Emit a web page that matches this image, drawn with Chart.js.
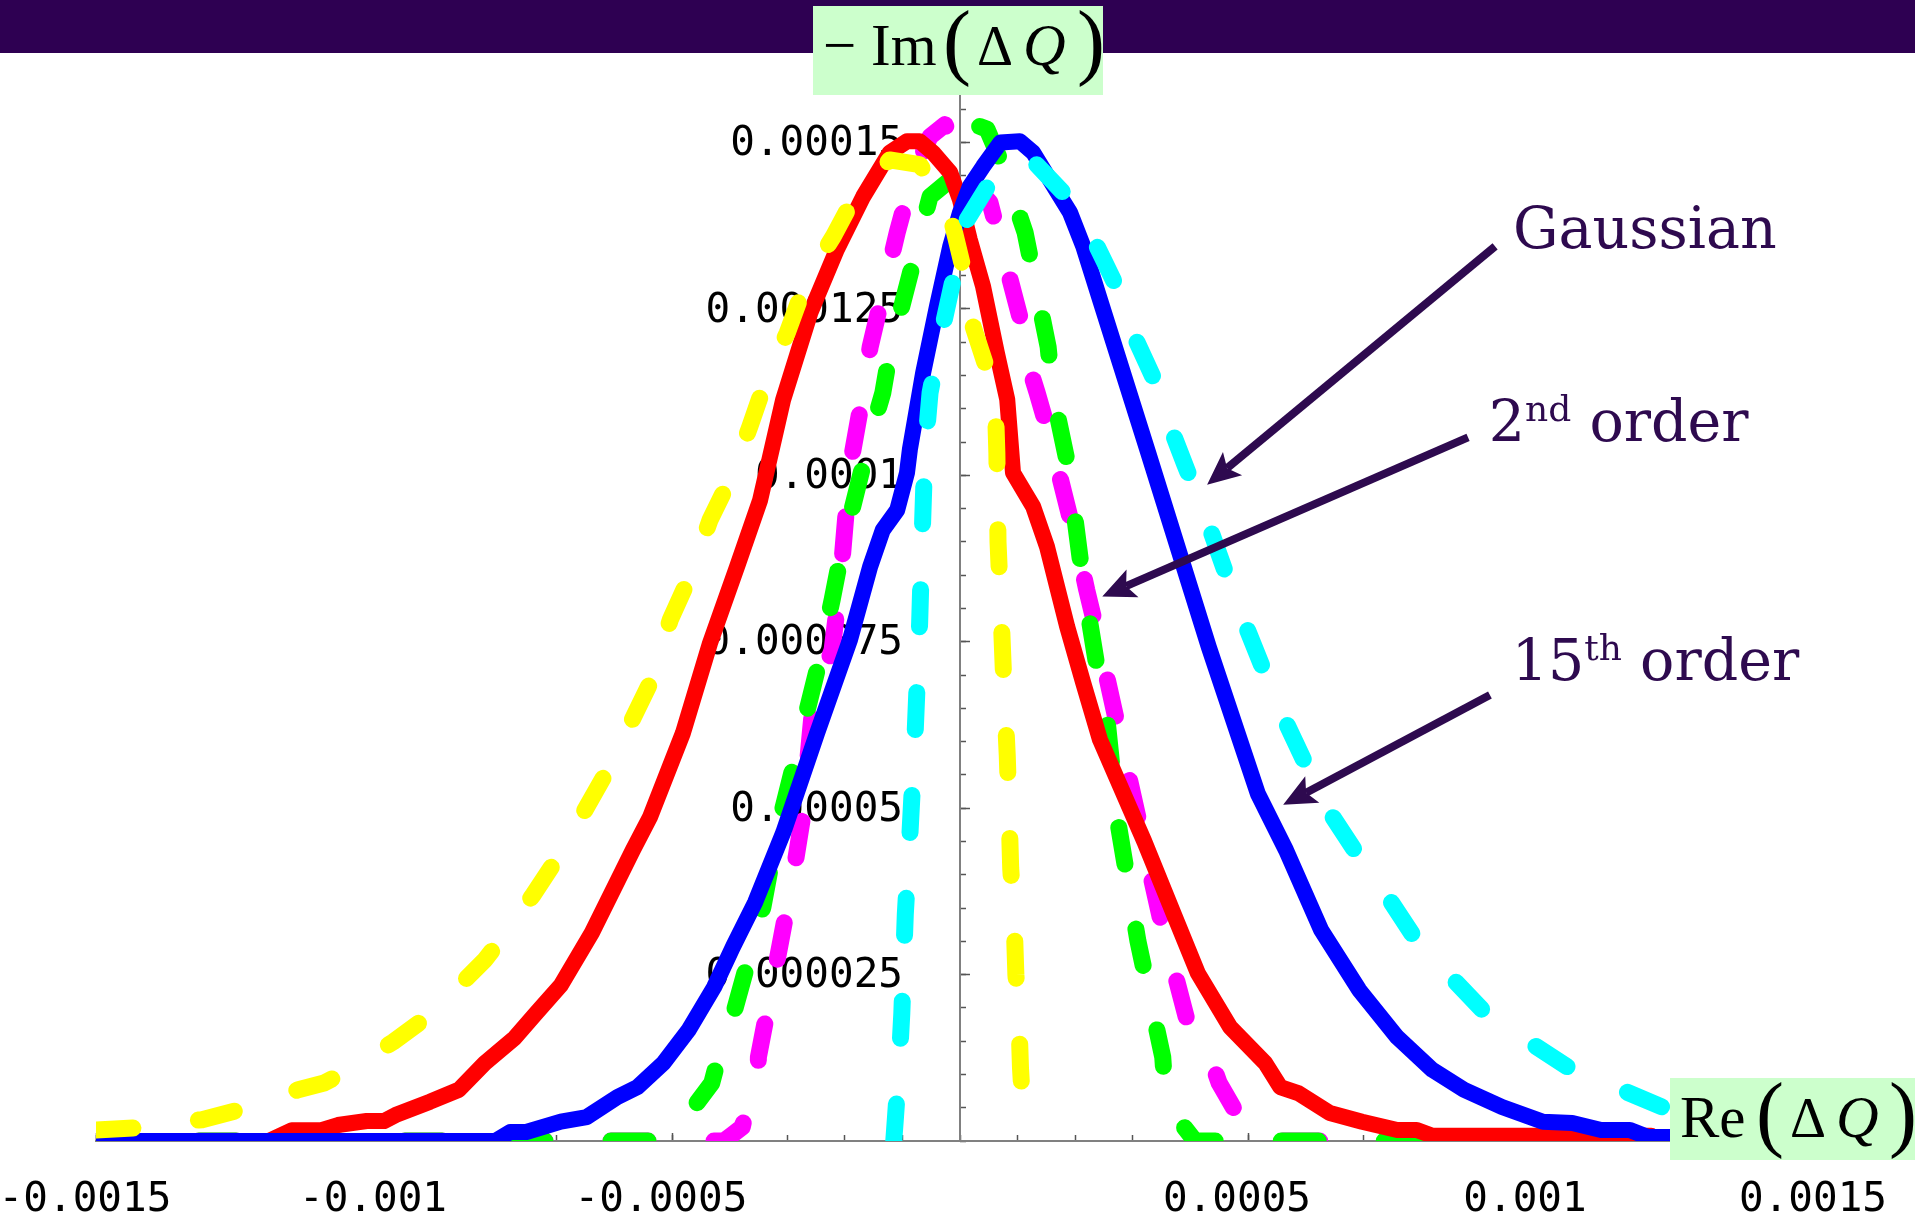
<!DOCTYPE html>
<html>
<head>
<meta charset="utf-8">
<script src="https://cdn.jsdelivr.net/npm/chart.js@4.4.1/dist/chart.umd.min.js"></script>
<style>
  html, body { margin: 0; padding: 0; background: #fff; }
  #wrap { width: 1915px; height: 1219px; position: relative; }
</style>
</head>
<body>
<div id="wrap"><canvas id="myChart"></canvas></div>
<script>
// axis ticks
const xTicks = [-0.0015, -0.001, -0.0005, 0.0005, 0.001, 0.0015];
const xTickLabels = ['-0.0015', '-0.001', '-0.0005', '0.0005', '0.001', '0.0015'];
const yTicks = [0.000025, 0.00005, 0.000075, 0.0001, 0.000125, 0.00015];
const yTickLabels = ['0.000025', '0.00005', '0.000075', '0.0001', '0.000125', '0.00015'];

// red, solid
const redX = [-0.0015, -0.0012, -0.00116, -0.00111, -0.00108, -0.00103, -0.001, -0.00098, -0.00092, -0.00087,
  -0.000825, -0.000773, -0.000736, -0.000693, -0.000639, -0.000568, -0.000538, -0.000481, -0.000434, -0.000387,
  -0.000347, -0.000307, -0.00026, -0.000214, -0.000168, -0.000122, -0.000092, -0.00007, -0.000047, -0.000017,
  0, 0.000017, 0.00004, 0.000064, 0.000082, 0.000092, 0.000127, 0.000151, 0.000186, 0.000214,
  0.000243, 0.00032, 0.000373, 0.000413, 0.000469, 0.00053, 0.000556, 0.000587, 0.000642, 0.000698,
  0.000759, 0.000793, 0.00082, 0.0012];
const redY = [0, 0, 1.6e-6, 1.6e-6, 2.4e-6, 3.0e-6, 3.0e-6, 3.9e-6, 5.9e-6, 7.7e-6,
  1.17e-5, 1.55e-5, 1.92e-5, 2.34e-5, 3.13e-5, 4.37e-5, 4.87e-5, 6.13e-5, 7.48e-5, 8.63e-5,
  9.63e-5, 1.114e-4, 1.244e-4, 1.339e-4, 1.419e-4, 1.485e-4, 1.502e-4, 1.502e-4, 1.485e-4, 1.455e-4,
  1.414e-4, 1.354e-4, 1.284e-4, 1.184e-4, 1.114e-4, 1.004e-4, 9.53e-5, 8.93e-5, 7.73e-5, 6.88e-5,
  6.03e-5, 4.5e-5, 3.37e-5, 2.52e-5, 1.71e-5, 1.17e-5, 8.1e-6, 7.2e-6, 4.2e-6, 2.9e-6,
  1.65e-6, 1.65e-6, 0.8e-6, 0.8e-6];

// blue, solid (15th order)
const blueX = [-0.0015, -0.000807, -0.000781, -0.000753, -0.000693, -0.000648, -0.000595, -0.00056, -0.000515, -0.000471,
  -0.000427, -0.000394, -0.000356, -0.000307, -0.000248, -0.000191, -0.000156, -0.000134, -0.000109, -0.000092,
  -0.000087, -0.000064, -0.00004, -0.000017, 0, 0.000017, 0.00004, 0.00007, 0.000104, 0.000127,
  0.000156, 0.000191, 0.000214, 0.000243, 0.000326, 0.000432, 0.000517, 0.000566, 0.000627, 0.000693,
  0.000759, 0.00082, 0.000875, 0.000941, 0.001012, 0.001063, 0.001113, 0.001163, 0.001194, 0.0015];
const blueY = [0, 0, 1.35e-6, 1.35e-6, 2.9e-6, 3.6e-6, 6.6e-6, 8.1e-6, 1.17e-5, 1.67e-5,
  2.31e-5, 2.92e-5, 3.58e-5, 4.63e-5, 6.13e-5, 7.53e-5, 8.63e-5, 9.18e-5, 9.48e-5, 1.004e-4,
  1.039e-4, 1.154e-4, 1.254e-4, 1.344e-4, 1.395e-4, 1.434e-4, 1.464e-4, 1.5e-4, 1.502e-4, 1.485e-4,
  1.444e-4, 1.395e-4, 1.344e-4, 1.264e-4, 1.036e-4, 7.42e-5, 5.22e-5, 4.37e-5, 3.17e-5, 2.27e-5,
  1.56e-5, 1.07e-5, 7.7e-6, 5.1e-6, 2.9e-6, 2.7e-6, 1.65e-6, 1.65e-6, 0.6e-6, 0.6e-6];

// yellow, dashed
const yellowX = [-0.0015, -0.001427, -0.001405, -0.001316, -0.001233, -0.001149, -0.001104, -0.001061, -0.000984, -0.000913,
  -0.000856, -0.000825, -0.000793, -0.000741, -0.000693, -0.00061, -0.000538, -0.000503, -0.000464, -0.000434,
  -0.000394, -0.000365, -0.000335, -0.0003, -0.000266, -0.00022, -0.000179, -0.000122, -0.00007, -0.000049,
  -0.000012, 0.000009, 0.000023, 0.000057, 0.000061, 0.000064, 0.000066, 0.000071, 0.000076, 0.000082,
  0.000085, 0.000088, 0.000094, 0.000097, 0.000102, 0.000105, 0.00011, 0.000112];
const yellowY = [1.65e-6, 2.0e-6, 2.4e-6, 3.2e-6, 5.1e-6, 7.7e-6, 8.7e-6, 1.07e-5, 1.49e-5, 1.94e-5,
  2.45e-5, 2.72e-5, 3.07e-5, 3.7e-5, 4.33e-5, 5.6e-5, 6.88e-5, 7.83e-5, 8.58e-5, 9.33e-5,
  1.004e-4, 1.073e-4, 1.148e-4, 1.214e-4, 1.294e-4, 1.359e-4, 1.425e-4, 1.474e-4, 1.467e-4, 1.44e-4,
  1.374e-4, 1.299e-4, 1.223e-4, 1.133e-4, 1.118e-4, 1.034e-4, 9.0e-5, 8.0e-5, 6.9e-5, 5.8e-5,
  5.0e-5, 4.1e-5, 3.3e-5, 2.5e-5, 1.9e-5, 1.1e-5, 3.6e-6, 0];

// cyan, dashed (Gaussian)
const cyanX = [-0.000115, -0.000112, -0.000106, -0.000101, -0.000095, -0.000087, -0.000078, -0.00007, -0.000066, -0.000061,
  -0.000052, -0.00003, -0.000012, 0.000005, 0.000052, 0.000075, 0.000122, 0.000179, 0.000226, 0.000266,
  0.0003, 0.000335, 0.000365, 0.00039, 0.000434, 0.000475, 0.000549, 0.000634, 0.000688, 0.000738,
  0.000788, 0.000854, 0.00091, 0.000991, 0.001057, 0.001103, 0.001148, 0.00123, 0.001316, 0.001405, 0.0015];
const cyanY = [0, 3.6e-6, 1.1e-5, 1.92e-5, 3.4e-5, 4.6e-5, 6.1e-5, 7.8e-5, 9.0e-5, 1.034e-4,
  1.124e-4, 1.223e-4, 1.294e-4, 1.374e-4, 1.44e-4, 1.467e-4, 1.477e-4, 1.425e-4, 1.365e-4, 1.294e-4,
  1.214e-4, 1.148e-4, 1.073e-4, 1.017e-4, 9.2e-5, 8.2e-5, 6.6e-5, 5.04e-5, 4.33e-5, 3.73e-5,
  3.07e-5, 2.45e-5, 1.94e-5, 1.47e-5, 1.1e-5, 8.9e-6, 7.7e-6, 4.7e-6, 3.2e-6, 2.4e-6, 1.65e-6];

// magenta, dashed
const magentaX = [-0.0015, -0.00041, -0.000396, -0.000378, -0.00037, -0.000351, -0.00035, -0.000313, -0.00029, -0.000274,
  -0.000255, -0.000222, -0.000208, -0.000191, -0.000168, -0.000156, -0.000109, -0.000092, -0.000075, -0.000052,
  -0.000026, 0.000017, 0.000052, 0.000104, 0.000116, 0.000134, 0.000156, 0.000205, 0.00022, 0.000238,
  0.000295, 0.000347, 0.000394, 0.000413, 0.000434, 0.00045, 0.000474, 0.000495, 0.00052, 0.0015];
const magentaY = [0, 0, 0.9e-6, 2.1e-6, 5.1e-6, 8.1e-6, 1.26e-5, 2.92e-5, 3.97e-5, 4.83e-5,
  6.58e-5, 7.38e-5, 8.39e-5, 1.013e-4, 1.124e-4, 1.193e-4, 1.365e-4, 1.419e-4, 1.464e-4, 1.509e-4,
  1.527e-4, 1.444e-4, 1.41e-4, 1.238e-4, 1.174e-4, 1.124e-4, 1.058e-4, 8.88e-5, 8.28e-5, 7.63e-5,
  5.4e-5, 3.38e-5, 1.82e-5, 1.62e-5, 1.26e-5, 8.7e-6, 5.1e-6, 2.1e-6, 0, 0];

// green, dashed
const greenX = [-0.0015, -0.00052, -0.000488, -0.000462, -0.000431, -0.00041, -0.000396, -0.000342, -0.000318, -0.000295,
  -0.000248, -0.000222, -0.000205, -0.000156, -0.000134, -0.000122, -0.000104, -0.000052, -0.000017, 0.000026,
  0.000047, 0.000082, 0.000092, 0.000113, 0.000153, 0.000161, 0.000188, 0.000214, 0.000238, 0.000252,
  0.000273, 0.000309, 0.000352, 0.000355, 0.000373, 0.000389, 0.000408, 0.0015];
const greenY = [0, 0, 2.1e-6, 5.1e-6, 8.7e-6, 1.56e-5, 1.82e-5, 3.52e-5, 4.63e-5, 5.43e-5,
  7.08e-5, 8.13e-5, 8.88e-5, 1.058e-4, 1.124e-4, 1.184e-4, 1.244e-4, 1.419e-4, 1.444e-4, 1.527e-4,
  1.52e-4, 1.449e-4, 1.419e-4, 1.365e-4, 1.193e-4, 1.124e-4, 1.013e-4, 8.39e-5, 7.12e-5, 6.6e-5,
  4.85e-5, 3.0e-5, 1.26e-5, 8.7e-6, 5.7e-6, 2.1e-6, 0, 0];

const pts = (xs, ys) => xs.map((x, i) => ({x: x, y: ys[i]}));

// minor tick marks, every 0.0001 on x and 0.000005 on y
const xMinor = [];
for (let i = -15; i <= 15; i++) xMinor.push(Number((i * 0.0001).toFixed(6)));
const yMinor = [];
for (let i = 0; i <= 31; i++) yMinor.push(Number((i * 0.000005).toFixed(7)));

const purple = '#2e0a4f';
const dash = [37, 66];

function line(label, xs, ys, color, dashed) {
  return {
    label: label,
    data: pts(xs, ys),
    borderColor: color,
    borderWidth: dashed ? 17 : 16,
    borderDash: dashed ? dash : [],
    borderCapStyle: 'round',
    borderJoinStyle: 'round',
    pointRadius: 0,
    tension: 0,
    fill: false
  };
}

function arrow(ctx, x1, y1, x2, y2) {
  const a = Math.atan2(y2 - y1, x2 - x1);
  const head = 33, half = 15;
  const c = Math.cos(a), s = Math.sin(a);
  const bx = x2 - head * c, by = y2 - head * s;
  ctx.beginPath();
  ctx.moveTo(x1, y1);
  ctx.lineTo(bx + 7 * c, by + 7 * s);
  ctx.stroke();
  ctx.beginPath();
  ctx.moveTo(x2, y2);
  ctx.lineTo(bx - half * s, by + half * c);
  ctx.lineTo(bx + 7 * c, by + 7 * s);
  ctx.lineTo(bx + half * s, by - half * c);
  ctx.closePath();
  ctx.fill();
}

// annotation text and arrows, anchored in data units
const notes = [
  {parts: [['Gaussian', 0]], at: [0.00096, 1.342e-4], from: [0.000929, 1.344e-4], to: [0.000429, 9.86e-5]},
  {parts: [['2', 0], ['nd', 1], [' order', 0]], at: [0.000918, 1.051e-4], from: [0.000882, 1.057e-4], to: [0.000247, 8.18e-5]},
  {parts: [['15', 0], ['th', 1], [' order', 0]], at: [0.000958, 6.93e-5], from: [0.00092, 6.7e-5], to: [0.000561, 5.05e-5]}
];

// "pre ( ΔQ )" with each glyph at its offset from x
function deltaQ(ctx, pre, x, base, off) {
  ctx.textBaseline = 'alphabetic';
  ctx.textAlign = 'left';
  ctx.fillStyle = '#000';
  ctx.font = '59px "Liberation Serif"';
  ctx.fillText(pre, x + off[0], base);
  ctx.font = '84px "Liberation Serif"';
  ctx.fillText('(', x + off[1], base + 4);
  ctx.font = '56px "Liberation Serif"';
  ctx.fillText('\u0394', x + off[2], base);
  ctx.font = 'italic 59px "Liberation Serif"';
  ctx.fillText('Q', x + off[3], base);
  ctx.font = '84px "Liberation Serif"';
  ctx.fillText(')', x + off[4], base + 4);
}

const overlay = {
  id: 'overlay',
  beforeDatasetsDraw(chart) {
    // y tick labels sit under the curves, left of the axis
    const ctx = chart.ctx;
    const sx = chart.scales.x, sy = chart.scales.y;
    const x0 = sx.getPixelForValue(0);
    ctx.save();
    ctx.font = '41px "DejaVu Sans Mono"';
    ctx.fillStyle = '#000';
    ctx.textAlign = 'right';
    ctx.textBaseline = 'middle';
    yTicks.forEach((v, i) => ctx.fillText(yTickLabels[i], x0 - 57, sy.getPixelForValue(v) + 2));
    ctx.restore();
  },
  afterDraw(chart) {
    const ctx = chart.ctx;
    const sx = chart.scales.x, sy = chart.scales.y;
    ctx.save();

    // top band
    ctx.fillStyle = '#2e0052';
    ctx.fillRect(0, 0, chart.width, 53);

    // arrows
    ctx.strokeStyle = purple;
    ctx.fillStyle = purple;
    ctx.lineWidth = 8;
    ctx.lineCap = 'butt';
    notes.forEach(n => {
      arrow(ctx, sx.getPixelForValue(n.from[0]), sy.getPixelForValue(n.from[1]),
        sx.getPixelForValue(n.to[0]), sy.getPixelForValue(n.to[1]));
    });

    // annotation labels
    ctx.textBaseline = 'alphabetic';
    ctx.textAlign = 'left';
    notes.forEach(n => {
      let x = sx.getPixelForValue(n.at[0]);
      const y = sy.getPixelForValue(n.at[1]);
      n.parts.forEach(p => {
        ctx.font = p[1] ? '36px "DejaVu Serif"' : '57px "DejaVu Serif"';
        ctx.fillText(p[0], x, p[1] ? y - 20 : y);
        x += ctx.measureText(p[0]).width;
      });
    });

    // vertical axis label
    const x0 = sx.getPixelForValue(0);
    ctx.fillStyle = '#ccffcc';
    ctx.fillRect(x0 - 147, 6, 290, 89);
    deltaQ(ctx, '\u2212 Im', x0 - 147, 65, [10, 130, 164, 210, 264]);

    // horizontal axis label
    const y0 = sy.getPixelForValue(0);
    ctx.fillStyle = '#ccffcc';
    ctx.fillRect(1670, y0 - 63, 245, 82);
    deltaQ(ctx, 'Re', 1670, y0 - 4, [10, 86, 120, 166, 219]);

    ctx.restore();
  }
};

const axisFont = {family: '"DejaVu Sans Mono"', size: 41, lineHeight: 2.88};

const chart = new Chart(document.getElementById('myChart'), {
  type: 'line',
  data: {
    datasets: [
      line('Gaussian', cyanX, cyanY, '#00ffff', true),
      line('yellow', yellowX, yellowY, '#ffff00', true),
      line('15th order', blueX, blueY, '#0000ff', false),
      line('red', redX, redY, '#ff0000', false),
      line('2nd order (green)', greenX, greenY, '#00ff00', true),
      line('2nd order (magenta)', magentaX, magentaY, '#ff00ff', true)
    ]
  },
  options: {
    responsive: true,
    maintainAspectRatio: false,
    animation: false,
    layout: {padding: {left: 96, right: 91, top: 96, bottom: 78}},
    plugins: {legend: {display: false}, tooltip: {enabled: false}},
    scales: {
      x: {
        type: 'linear', min: -0.0015, max: 0.0015,
        position: {y: 0},
        afterBuildTicks: s => { s.ticks = xTicks.map(v => ({value: v})); },
        ticks: {
          callback: (v, i) => xTickLabels[i],
          font: axisFont, color: '#000', padding: 9,
          autoSkip: false, maxRotation: 0, labelOffset: -11
        },
        grid: {drawOnChartArea: false, tickLength: -9, tickColor: '#555', tickWidth: 1.5},
        border: {color: '#808080', width: 2}
      },
      xMinor: {
        type: 'linear', min: -0.0015, max: 0.0015,
        position: {y: 0},
        afterBuildTicks: s => { s.ticks = xMinor.map(v => ({value: v})); },
        ticks: {display: false},
        grid: {drawOnChartArea: false, tickLength: -6, tickColor: '#555', tickWidth: 1.5},
        border: {display: false}
      },
      y: {
        type: 'linear', min: 0, max: 0.000157,
        position: {x: 0},
        afterBuildTicks: s => { s.ticks = yTicks.map(v => ({value: v})); },
        ticks: {display: false},
        grid: {drawOnChartArea: false, tickLength: -11, tickColor: '#555', tickWidth: 1.5},
        border: {color: '#808080', width: 2}
      },
      yMinor: {
        type: 'linear', min: 0, max: 0.000157,
        position: {x: 0},
        afterBuildTicks: s => { s.ticks = yMinor.map(v => ({value: v})); },
        ticks: {display: false},
        grid: {drawOnChartArea: false, tickLength: -6, tickColor: '#555', tickWidth: 1.5},
        border: {display: false}
      }
    }
  },
  plugins: [overlay]
});
</script>
</body>
</html>
